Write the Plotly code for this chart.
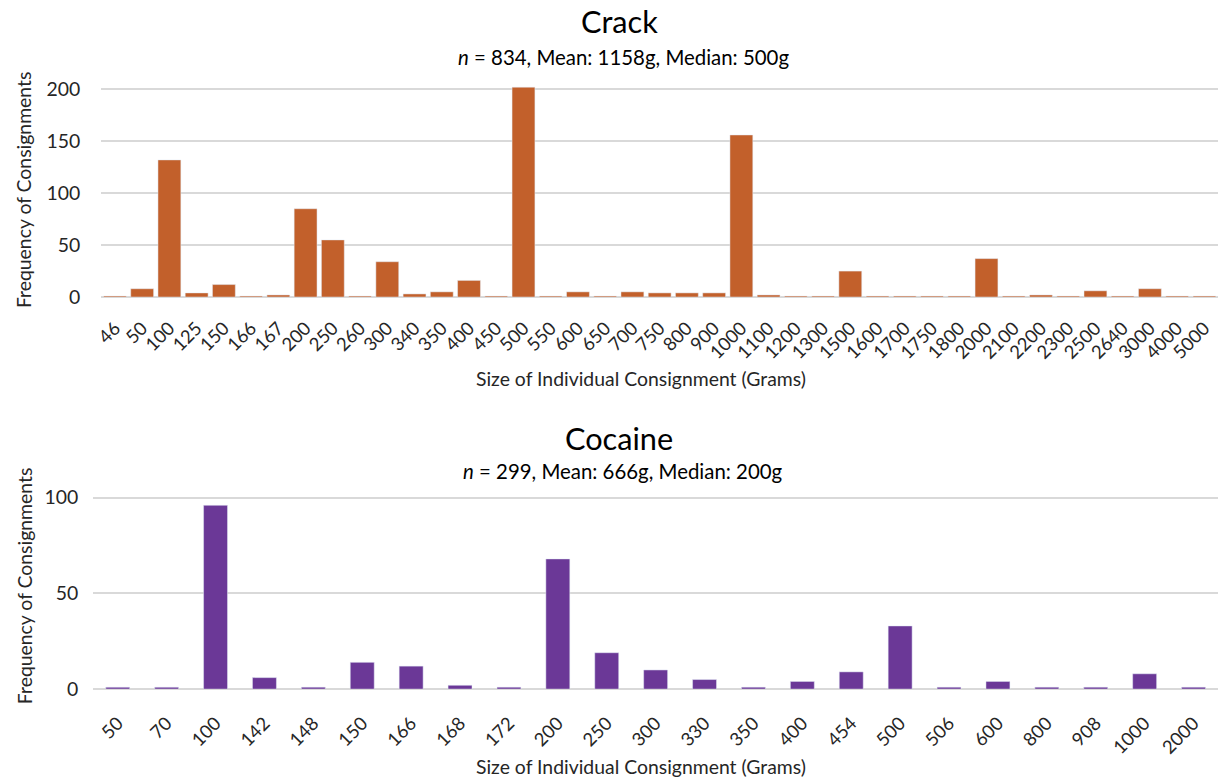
import plotly.graph_objects as go

crack_sizes = ["46", "50", "100", "125", "150", "166", "167", "200", "250", "260",
               "300", "340", "350", "400", "450", "500", "550", "600", "650", "700",
               "750", "800", "900", "1000", "1100", "1200", "1300", "1500", "1600", "1700",
               "1750", "1800", "2000", "2100", "2200", "2300", "2500", "2640", "3000", "4000",
               "5000"]
crack_counts = [1, 8, 132, 4, 12, 1, 2, 85, 55, 1,
                34, 3, 5, 16, 1, 202, 1, 5, 1, 5,
                4, 4, 4, 156, 2, 1, 1, 25, 1, 1,
                1, 1, 37, 1, 2, 1, 6, 1, 8, 1,
                1]

cocaine_sizes = ["50", "70", "100", "142", "148", "150", "166", "168", "172", "200",
                 "250", "300", "330", "350", "400", "454", "500", "506", "600", "800",
                 "908", "1000", "2000"]
cocaine_counts = [1, 1, 96, 6, 1, 14, 12, 2, 1, 68,
                  19, 10, 5, 1, 4, 9, 33, 1, 4, 1,
                  1, 8, 1]

crack_title = "Crack"
crack_sub = "<i>n</i> = 834, Mean: 1158g, Median: 500g"
cocaine_title = "Cocaine"
cocaine_sub = "<i>n</i> = 299, Mean: 666g, Median: 200g"
x_title = "Size of Individual Consignment (Grams)"
y_title = "Frequency of Consignments"

W, H = 1218, 778
# measured correction between page pixels and the photographed picture
SX, OX = 0.99, 7.0
SY, OY = 0.978, 6.0
FONT = "Lato, 'Noto Sans', sans-serif"
ORANGE = "#C2602B"
PURPLE = "#6B3897"
GRID = "#D9D9D9"
TXT = "#262626"


def py(px):
    return min(1.0, max(0.0, 1 - ((px - OY) / SY) / H))


def pxx(px):
    return min(1.0, max(0.0, ((px - OX) / SX) / W))


def fs(size):
    return round(size / SY, 1)


fig = go.Figure()
fig.add_trace(go.Bar(x=crack_sizes, y=crack_counts, marker_color=ORANGE,
                     width=0.84, xaxis="x", yaxis="y", showlegend=False))
fig.add_trace(go.Bar(x=cocaine_sizes, y=cocaine_counts, marker_color=PURPLE,
                     width=0.49, xaxis="x2", yaxis="y2", showlegend=False))

common_x = dict(type="category", tickangle=-45, showgrid=False, showline=False,
                ticks="", dtick=1,
                tickfont=dict(family=FONT, size=fs(18), color=TXT), fixedrange=True)
common_y = dict(showgrid=True, gridcolor=GRID, gridwidth=1.5, zeroline=True,
                zerolinecolor=GRID, zerolinewidth=1.5, showline=False, ticks="",
                tickfont=dict(family=FONT, size=fs(19), color=TXT), fixedrange=True)


def ann(text, x, y, size, color=TXT, angle=0):
    return dict(text=text, x=pxx(x), y=py(y), xref="paper", yref="paper",
                showarrow=False, textangle=angle,
                font=dict(family=FONT, size=fs(size), color=color),
                xanchor="center", yanchor="middle")


fig.update_layout(
    width=W, height=H,
    margin=dict(l=0, r=0, t=0, b=0),
    paper_bgcolor="white", plot_bgcolor="white",
    font=dict(family=FONT, color=TXT),
    xaxis=dict(domain=[pxx(100), pxx(1215)], anchor="y", ticklabelstandoff=16, **common_x),
    yaxis=dict(domain=[py(297), py(83)], anchor="x", range=[0, 206],
               tickvals=[0, 50, 100, 150, 200], ticklabelstandoff=20, **common_y),
    xaxis2=dict(domain=[pxx(92), pxx(1215)], anchor="y2", ticklabelstandoff=19, **common_x),
    yaxis2=dict(domain=[py(689), py(488)], anchor="x2", range=[0, 105],
                tickvals=[0, 50, 100], ticklabelstandoff=14, **common_y),
    annotations=[
        ann(crack_title, 616, 21, 30, "black"),
        ann(crack_sub, 620, 57, 20, "black"),
        ann(cocaine_title, 616, 438, 30, "black"),
        ann(cocaine_sub, 620, 471, 20, "black"),
        ann(x_title, 638, 378, 19),
        ann(x_title, 638, 766, 19),
        ann(y_title, 22, 190, 19, angle=-90),
        ann(y_title, 23, 586, 19, angle=-90),
    ],
)

fig.write_html("out.html", config={"displayModeBar": False},
               post_script="document.body.style.margin='0';")
